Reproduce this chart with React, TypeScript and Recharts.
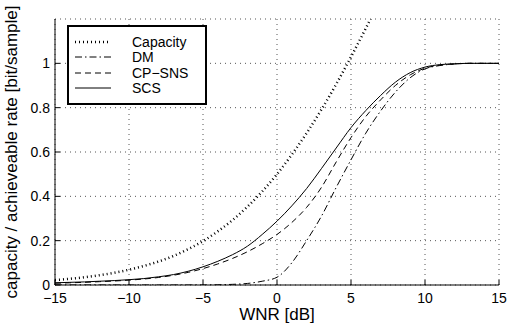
import React from 'react';
import { LineChart, Line, XAxis, YAxis, CartesianGrid, Label } from 'recharts';

const wnr = [-15, -14, -13, -12, -11, -10, -9, -8, -7, -6, -5, -4, -3, -2, -1, 0, 1, 2, 3, 4, 5, 6, 7, 8, 9, 10, 11, 12, 13, 14, 15];

const capacity = [0.022, 0.028, 0.035, 0.044, 0.055, 0.069, 0.086, 0.106, 0.131, 0.162, 0.198, 0.242, 0.293, 0.353, 0.422, 0.5,
  0.588, 0.685, 0.791, 0.906, 1.029, 1.158, 1.294, null, null, null, null, null, null, null, null];
const dm = [0, 0, 0, 0, 0, 0, 0, 0, 0, 0, 0, 0.001, 0.003, 0.007, 0.017, 0.035,
  0.1, 0.2, 0.31, 0.44, 0.565, 0.685, 0.785, 0.87, 0.935, 0.975, 0.99, 0.997, 1, 1, 1];
const cpSns = [0.008, 0.01, 0.012, 0.015, 0.018, 0.022, 0.027, 0.034, 0.044, 0.057, 0.074, 0.095, 0.12, 0.15, 0.186, 0.228,
  0.282, 0.35, 0.44, 0.555, 0.665, 0.76, 0.835, 0.9, 0.948, 0.978, 0.992, 0.997, 1, 1, 1];
const scs = [0.01, 0.012, 0.014, 0.017, 0.02, 0.024, 0.029, 0.037, 0.047, 0.062, 0.082, 0.107, 0.137, 0.175, 0.228, 0.288,
  0.357, 0.435, 0.525, 0.618, 0.71, 0.787, 0.855, 0.915, 0.958, 0.983, 0.994, 0.998, 1, 1, 1];

const xTicks = [-15, -10, -5, 0, 5, 10, 15];
const yTicks = [0, 0.2, 0.4, 0.6, 0.8, 1];

const series = [
  { key: 'capacity', name: 'Capacity', dash: '1 3', width: 2.5 },
  { key: 'dm', name: 'DM', dash: '7 3 1.5 3', width: 1 },
  { key: 'cpSns', name: 'CP\u2212SNS', dash: '6 4', width: 1 },
  { key: 'scs', name: 'SCS', dash: undefined, width: 1 },
];

const data = wnr.map((x, i) => ({ x, capacity: capacity[i], dm: dm[i], cpSns: cpSns[i], scs: scs[i] }));

const font = 'Liberation Sans, Arial, Helvetica, sans-serif';

const fmt = (v: number) => (v < 0 ? '\u2212' + Math.abs(v) : String(v));

const LeftTick = ({ x, y, payload }: any) => (
  <g>
    <line x1={x} y1={y} x2={x + 5} y2={y} stroke="#000" />
    <text x={x - 5} y={y + 5} textAnchor="end" fontSize={14} fontFamily={font} fill="#000">{payload.value}</text>
  </g>
);
const BottomTick = ({ x, y, payload }: any) => (
  <g>
    <line x1={x} y1={y} x2={x} y2={y - 5} stroke="#000" />
    <text x={x} y={y + 18} textAnchor="middle" fontSize={14} fontFamily={font} fill="#000">{fmt(payload.value)}</text>
  </g>
);
const RightTick = ({ x, y }: any) => <line x1={x} y1={y} x2={x - 5} y2={y} stroke="#000" />;
const TopTick = ({ x, y }: any) => <line x1={x} y1={y} x2={x} y2={y + 5} stroke="#000" />;

const App = () => {
  return (
    <div style={{ position: 'absolute', left: 0, top: 0, width: 515, height: 329, background: '#fff' }}>
      <LineChart width={515} height={329} data={data} margin={{ top: 19, right: 16, bottom: 0, left: 0 }}>
        <CartesianGrid stroke="#555" strokeDasharray="1 4" />
        <XAxis dataKey="x" type="number" domain={[-15, 15]} ticks={xTicks} height={44} allowDataOverflow
          axisLine={{ stroke: '#000' }} tickLine={false} tickSize={0} tickMargin={0} tick={<BottomTick />}>
          <Label content={() => (
            <text x={277} y={320} textAnchor="middle" fontSize={17} fontFamily={font} fill="#000">WNR [dB]</text>
          )} />
        </XAxis>
        <XAxis xAxisId="top" orientation="top" dataKey="x" type="number" domain={[-15, 15]} ticks={xTicks} height={0}
          axisLine={{ stroke: '#000' }} tickLine={false} tickSize={0} tickMargin={0} tick={<TopTick />} />
        <YAxis type="number" domain={[0, 1.2]} ticks={yTicks} width={55} allowDataOverflow
          axisLine={{ stroke: '#000' }} tickLine={false} tickSize={0} tickMargin={0} tick={<LeftTick />}>
          <Label content={() => (
            <text transform="translate(17,152) rotate(-90)" textAnchor="middle" fontSize={17} fontFamily={font} fill="#000">
              capacity / achieveable rate [bit/sample]
            </text>
          )} />
        </YAxis>
        <YAxis yAxisId="right" orientation="right" type="number" domain={[0, 1.2]} ticks={yTicks} width={0}
          axisLine={{ stroke: '#000' }} tickLine={false} tickSize={0} tickMargin={0} tick={<RightTick />} />
        {series.map((s) => (
          <Line key={s.key} dataKey={s.key} type="monotone" stroke="#000" strokeWidth={s.width}
            strokeDasharray={s.dash} dot={false} activeDot={false} isAnimationActive={false} connectNulls={false} />
        ))}
      </LineChart>
      <div style={{ position: 'absolute', left: 67, top: 25, width: 136, height: 76, border: '2px solid #000', background: '#fff' }}>
        {series.map((s, i) => (
          <div key={s.key} style={{ position: 'absolute', left: 0, top: 7 + i * 15.3, height: 16, width: 136 }}>
            <svg width={40} height={16} style={{ position: 'absolute', left: 6, top: 0 }}>
              <line x1={0} y1={8} x2={36} y2={8} stroke="#000" strokeWidth={s.width} strokeDasharray={s.dash} />
            </svg>
            <span style={{ position: 'absolute', left: 63, top: 0, lineHeight: '16px', fontSize: 14, fontFamily: font, color: '#000', whiteSpace: 'nowrap' }}>
              {s.name}
            </span>
          </div>
        ))}
      </div>
    </div>
  );
};

export default App;
